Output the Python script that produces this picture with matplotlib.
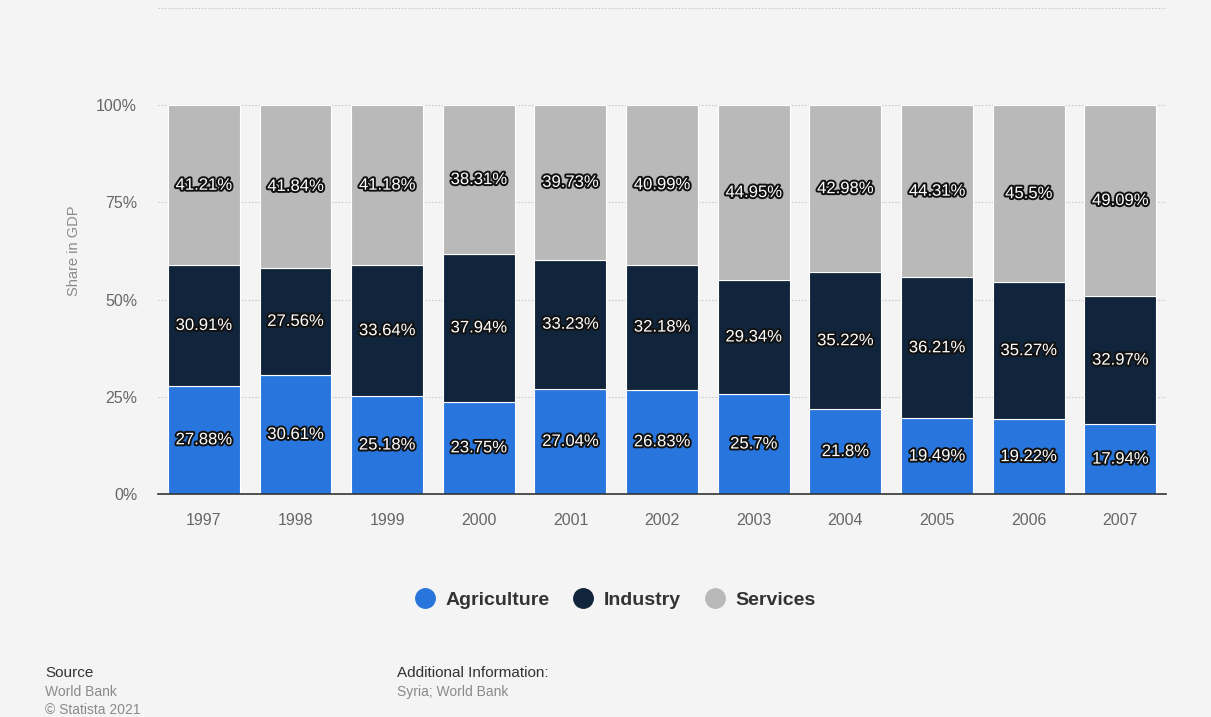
import matplotlib
matplotlib.use("Agg")
import matplotlib.pyplot as plt
import matplotlib.patheffects as pe
from matplotlib.lines import Line2D
import numpy as np

plt.rcParams["font.family"] = ["Liberation Sans", "DejaVu Sans"]

years = ["1997", "1998", "1999", "2000", "2001", "2002",
         "2003", "2004", "2005", "2006", "2007"]
agriculture = [27.88, 30.61, 25.18, 23.75, 27.04, 26.83, 25.7, 21.8, 19.49, 19.22, 17.94]
industry = [30.91, 27.56, 33.64, 37.94, 33.23, 32.18, 29.34, 35.22, 36.21, 35.27, 32.97]
services = [41.21, 41.84, 41.18, 38.31, 39.73, 40.99, 44.95, 42.98, 44.31, 45.5, 49.09]

series = [("Agriculture", agriculture, "#2876dd"),
          ("Industry", industry, "#10253b"),
          ("Services", services, "#b9b9b9")]

BG = "#f4f4f4"
fig = plt.figure(figsize=(12.11, 7.17), dpi=100, facecolor=BG)
ax = fig.add_axes([0.1305, 0.311, 0.8325, 0.678])
ax.set_facecolor(BG)

x = np.arange(len(years))
bottom = np.zeros(len(years))
outline = [pe.withStroke(linewidth=2.8, foreground="#111111")]
for name, vals, color in series:
    vals = np.array(vals)
    ax.bar(x, vals, width=0.785, bottom=bottom, color=color,
           edgecolor="white", linewidth=0.8, zorder=3)
    for xi, b, v in zip(x, bottom, vals):
        ax.text(xi, b + v / 2, f"{v:g}%", ha="center", va="center",
                color="white", fontsize=12, zorder=4, path_effects=outline)
    bottom += vals

ax.set_xlim(-0.5, len(years) - 0.5)
ax.set_ylim(0, 125)
ax.set_yticks([0, 25, 50, 75, 100, 125])
ax.set_yticklabels(["0%", "25%", "50%", "75%", "100%", ""])
ax.set_xticks(x)
ax.set_xticklabels(years)
ax.tick_params(axis="both", length=0, labelsize=11.5, labelcolor="#666666")
ax.tick_params(axis="y", pad=15)
ax.tick_params(axis="x", pad=14)
ax.grid(axis="y", color="#cccccc", linestyle=(0, (1.5, 1.5)), linewidth=0.8, zorder=0)
for s in ["top", "right", "left"]:
    ax.spines[s].set_visible(False)
ax.spines["bottom"].set_color("#333333")
ax.spines["bottom"].set_linewidth(1.2)
ax.spines["bottom"].set_zorder(5)

ax.set_ylabel("Share in GDP", fontsize=10.5, color="#8a8a8a", labelpad=11)

handles = [Line2D([0], [0], marker="o", linestyle="", markersize=14,
                  markerfacecolor=c, markeredgecolor=c) for _, _, c in series]
leg = fig.legend(handles, [n for n, _, _ in series], loc="center",
                 bbox_to_anchor=(0.504, 0.163), ncol=3, frameon=False,
                 handletextpad=0.05, columnspacing=0.75,
                 prop={"weight": "bold", "size": 14})
for t in leg.get_texts():
    t.set_color("#333333")

fig.text(45 / 1211, 1 - 673 / 717, "Source", fontsize=11, color="#333333", va="center")
fig.text(45 / 1211, 1 - 692 / 717, "World Bank", fontsize=10, color="#8a8a8a", va="center")
fig.text(45 / 1211, 1 - 710 / 717, "© Statista 2021", fontsize=10, color="#8a8a8a", va="center")
fig.text(397 / 1211, 1 - 673 / 717, "Additional Information:", fontsize=11, color="#333333", va="center")
fig.text(397 / 1211, 1 - 692 / 717, "Syria; World Bank", fontsize=10, color="#8a8a8a", va="center")

fig.savefig("out.png", dpi=100, facecolor=BG)
plt.close(fig)
